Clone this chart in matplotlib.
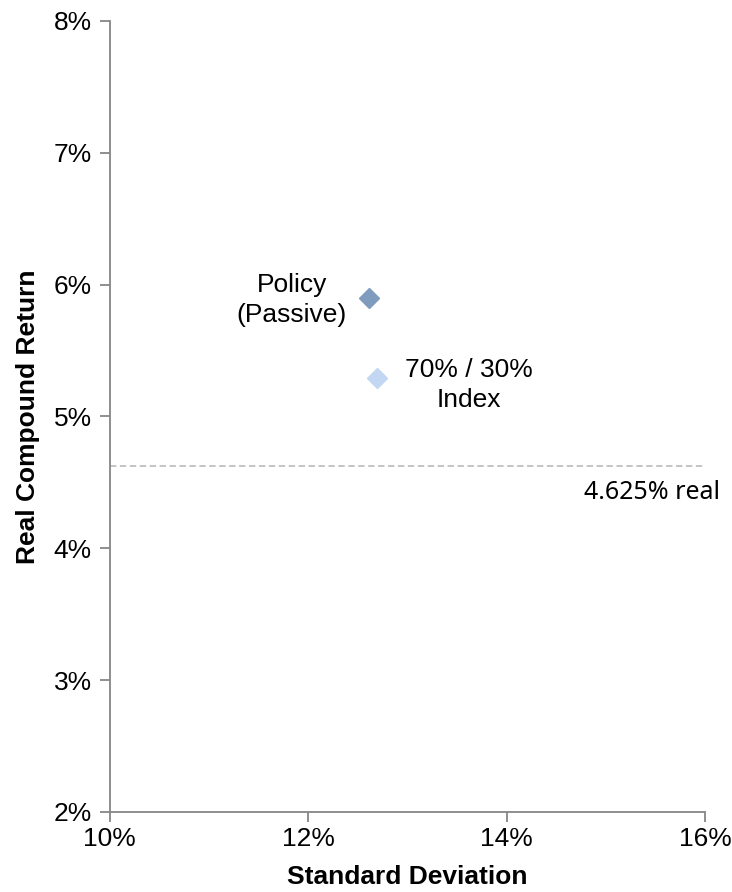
import matplotlib.pyplot as plt
from matplotlib.ticker import FuncFormatter

# Портфели: риск / реальная доходность, %
names = ["Policy\n(Passive)", "70% / 30%\nIndex"]
std_dev = [12.61, 12.69]
real_return = [5.90, 5.29]
colors = ["#7f9cbf", "#c3d6f2"]
target = 4.625

plt.rcParams['font.family'] = ['Liberation Sans', 'DejaVu Sans']

fig = plt.figure(figsize=(7.32, 8.92), dpi=100)
ax = fig.add_axes([0.150, 0.0897, 0.813, 0.887])

for x, y, c in zip(std_dev, real_return, colors):
    ax.plot(x, y, marker='D', markersize=10, color=c, linestyle='none')

# подписи точек
ax.text(std_dev[0] - 0.22, real_return[0] - 0.02, names[0], ha='right', va='center',
        fontsize=19, linespacing=1.3, multialignment='center')
ax.text(std_dev[1] + 0.29, real_return[1] - 0.05, names[1], ha='left', va='center',
        fontsize=19, linespacing=1.3, multialignment='center')

# линия целевой доходности
ax.axhline(target, color='#bfbfbf', linestyle=(0, (3.5, 2)), linewidth=1.3)
ax.text(16.15, target - 0.2, f"{target:g}% real", ha='right', va='center',
        fontsize=18, family=['Noto Sans', 'DejaVu Sans'])

ax.set_xlim(10, 16)
ax.set_ylim(2, 8)
ax.set_xticks([10, 12, 14, 16])
ax.set_yticks(range(2, 9))
pct = FuncFormatter(lambda v, p: f"{v:.0f}%")
ax.xaxis.set_major_formatter(pct)
ax.yaxis.set_major_formatter(pct)

for side in ['top', 'right']:
    ax.spines[side].set_visible(False)
for side in ['left', 'bottom']:
    ax.spines[side].set_color('#868686')
    ax.spines[side].set_linewidth(1.3)
ax.tick_params(colors='#868686', labelcolor='black', labelsize=19,
               length=7, width=1.3, direction='out', pad=6)
ax.tick_params(axis='x', pad=4)

ax.set_xlabel("Standard Deviation", fontsize=19, fontweight='bold', labelpad=10)
ax.set_ylabel("Real Compound Return", fontsize=19, fontweight='bold', labelpad=10)

fig.savefig("out.png", dpi=100)
